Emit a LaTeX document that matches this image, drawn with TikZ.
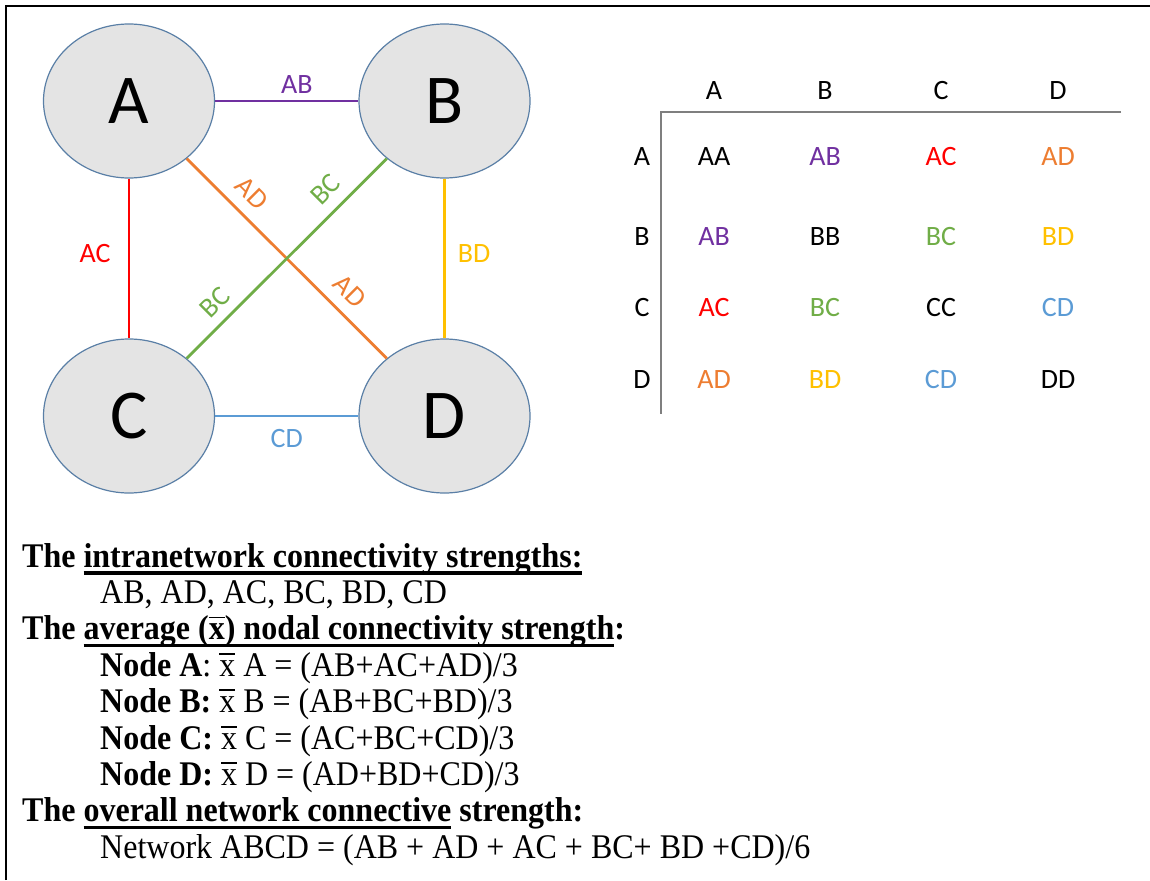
\documentclass[tikz,border=0pt]{standalone}
\usepackage{graphicx}
\usepackage{fontspec}
\setmainfont{Liberation Serif}
\newfontfamily\calib{Carlito}
\usetikzlibrary{shapes.geometric}
\definecolor{ndfill}{HTML}{E4E4E4}
\definecolor{ndborder}{HTML}{5A7FA6}
\definecolor{cAB}{HTML}{7030A0}
\definecolor{cAC}{HTML}{FF0000}
\definecolor{cAD}{HTML}{ED7D31}
\definecolor{cBC}{HTML}{70AD47}
\definecolor{cBD}{HTML}{FFC000}
\definecolor{cCD}{HTML}{5B9BD5}
\definecolor{tblgray}{HTML}{7F7F7F}
\newcommand\myul[1]{\setbox0\hbox{#1}\rlap{\rule[-7pt]{\wd0}{3pt}}\box0{}}
\newcommand\xbar{\leavevmode\hbox{\setbox2\hbox{x}\rlap{\rule[0.62em]{\wd2}{0.05em}}\box2}}
\newcommand\tl[1]{\scalebox{1}[1.08]{#1}}
\begin{document}
\begin{tikzpicture}[x=1pt,y=-1pt,
  nd/.style={ellipse, draw=ndborder, fill=ndfill, line width=1.2pt,
    minimum width=171pt, minimum height=154pt, inner sep=0pt,
    font=\calib\fontsize{70}{70}\selectfont},
  conn/.style={line width=2.8pt},
  lbl/.style={font=\calib\fontsize{28}{28}\selectfont, inner sep=0pt},
  slab/.style={lbl, sloped, anchor=south, inner ysep=11pt},
  txt/.style={anchor=base west, inner sep=0pt, font=\fontsize{32}{38}\selectfont},
  tbl/.style={font=\calib\fontsize{28}{28}\selectfont, inner sep=0pt}]
\useasboundingbox (0,0) rectangle (1150,880);
\draw[line width=2pt] (6,880) -- (6,6) -- (1150,6);
% graph
\node[nd] (A) at (129,101) {A};
\node[nd] (B) at (444.5,101) {B};
\node[nd] (C) at (129,416) {C};
\node[nd] (D) at (444.5,416) {D};
\draw[conn, cAB] (A) -- (B) node[lbl, pos=0.57, anchor=south, inner ysep=6pt] {AB};
\draw[conn, cAC] (A) -- (C) node[lbl, pos=0.47, anchor=east, inner xsep=17pt] {AC};
\draw[conn, cBD] (B) -- (D) node[lbl, pos=0.47, anchor=west, inner xsep=12pt] {BD};
\draw[conn, cCD] (C) -- (D) node[lbl, midway, anchor=north, inner ysep=12pt] {CD};
\draw[conn, cAD] (A) -- (D) node[slab, pos=0.25] {AD} node[slab, pos=0.74] {AD};
\draw[conn, cBC] (C) -- (B) node[slab, pos=0.21, inner ysep=9pt] {BC} node[slab, pos=0.77] {BC};
% table
\draw[tblgray, line width=2.5pt] (1121,112) -- (661,112) -- (661,414);
\foreach \n/\x in {A/714,B/825,C/941,D/1058}{
  \node[tbl] (h\n) at (\x,91) {\n};}
\foreach \n/\y in {A/157,B/237,C/308,D/380}{
  \node[tbl] (r\n) at (642,\y) {\n};}
\node[tbl] (AA) at (714,157) {AA};
\node[tbl, text=cAB] (t12) at (825,157) {AB};
\node[tbl, text=cAC] (t13) at (941,157) {AC};
\node[tbl, text=cAD] (t14) at (1058,157) {AD};
\node[tbl, text=cAB] (t21) at (714,237) {AB};
\node[tbl] (BB) at (825,237) {BB};
\node[tbl, text=cBC] (t23) at (941,237) {BC};
\node[tbl, text=cBD] (t24) at (1058,237) {BD};
\node[tbl, text=cAC] (t31) at (714,308) {AC};
\node[tbl, text=cBC] (t32) at (825,308) {BC};
\node[tbl] (CC) at (941,308) {CC};
\node[tbl, text=cCD] (t34) at (1058,308) {CD};
\node[tbl, text=cAD] (t41) at (714,380) {AD};
\node[tbl, text=cBD] (t42) at (825,380) {BD};
\node[tbl, text=cCD] (t43) at (941,380) {CD};
\node[tbl] (DD) at (1058,380) {DD};
% text
\node[txt] (l1) at (22,567) {\tl{\bfseries The \myul{intranetwork connectivity strengths:}}};
\node[txt] (l2) at (100,603.4) {\tl{AB, AD, AC, BC, BD, CD}};
\node[txt] (l3) at (22,639.8) {\tl{\bfseries The \myul{average (\xbar) nodal connectivity strength}:}};
\node[txt] (l4) at (100,676.2) {\tl{\textbf{Node A}: \xbar\ A = (AB+AC+AD)/3}};
\node[txt] (l5) at (100,712.6) {\tl{\textbf{Node B:} \xbar\ B = (AB+BC+BD)/3}};
\node[txt] (l6) at (100,749) {\tl{\textbf{Node C:} \xbar\ C = (AC+BC+CD)/3}};
\node[txt] (l7) at (100,785.4) {\tl{\textbf{Node D:} \xbar\ D = (AD+BD+CD)/3}};
\node[txt] (l8) at (22,821.8) {\tl{\bfseries The \myul{overall network connective} strength:}};
\node[txt] (l9) at (100,858.2) {\tl{Network ABCD = (AB + AD + AC + BC+ BD +CD)/6}};
\end{tikzpicture}
\end{document}
